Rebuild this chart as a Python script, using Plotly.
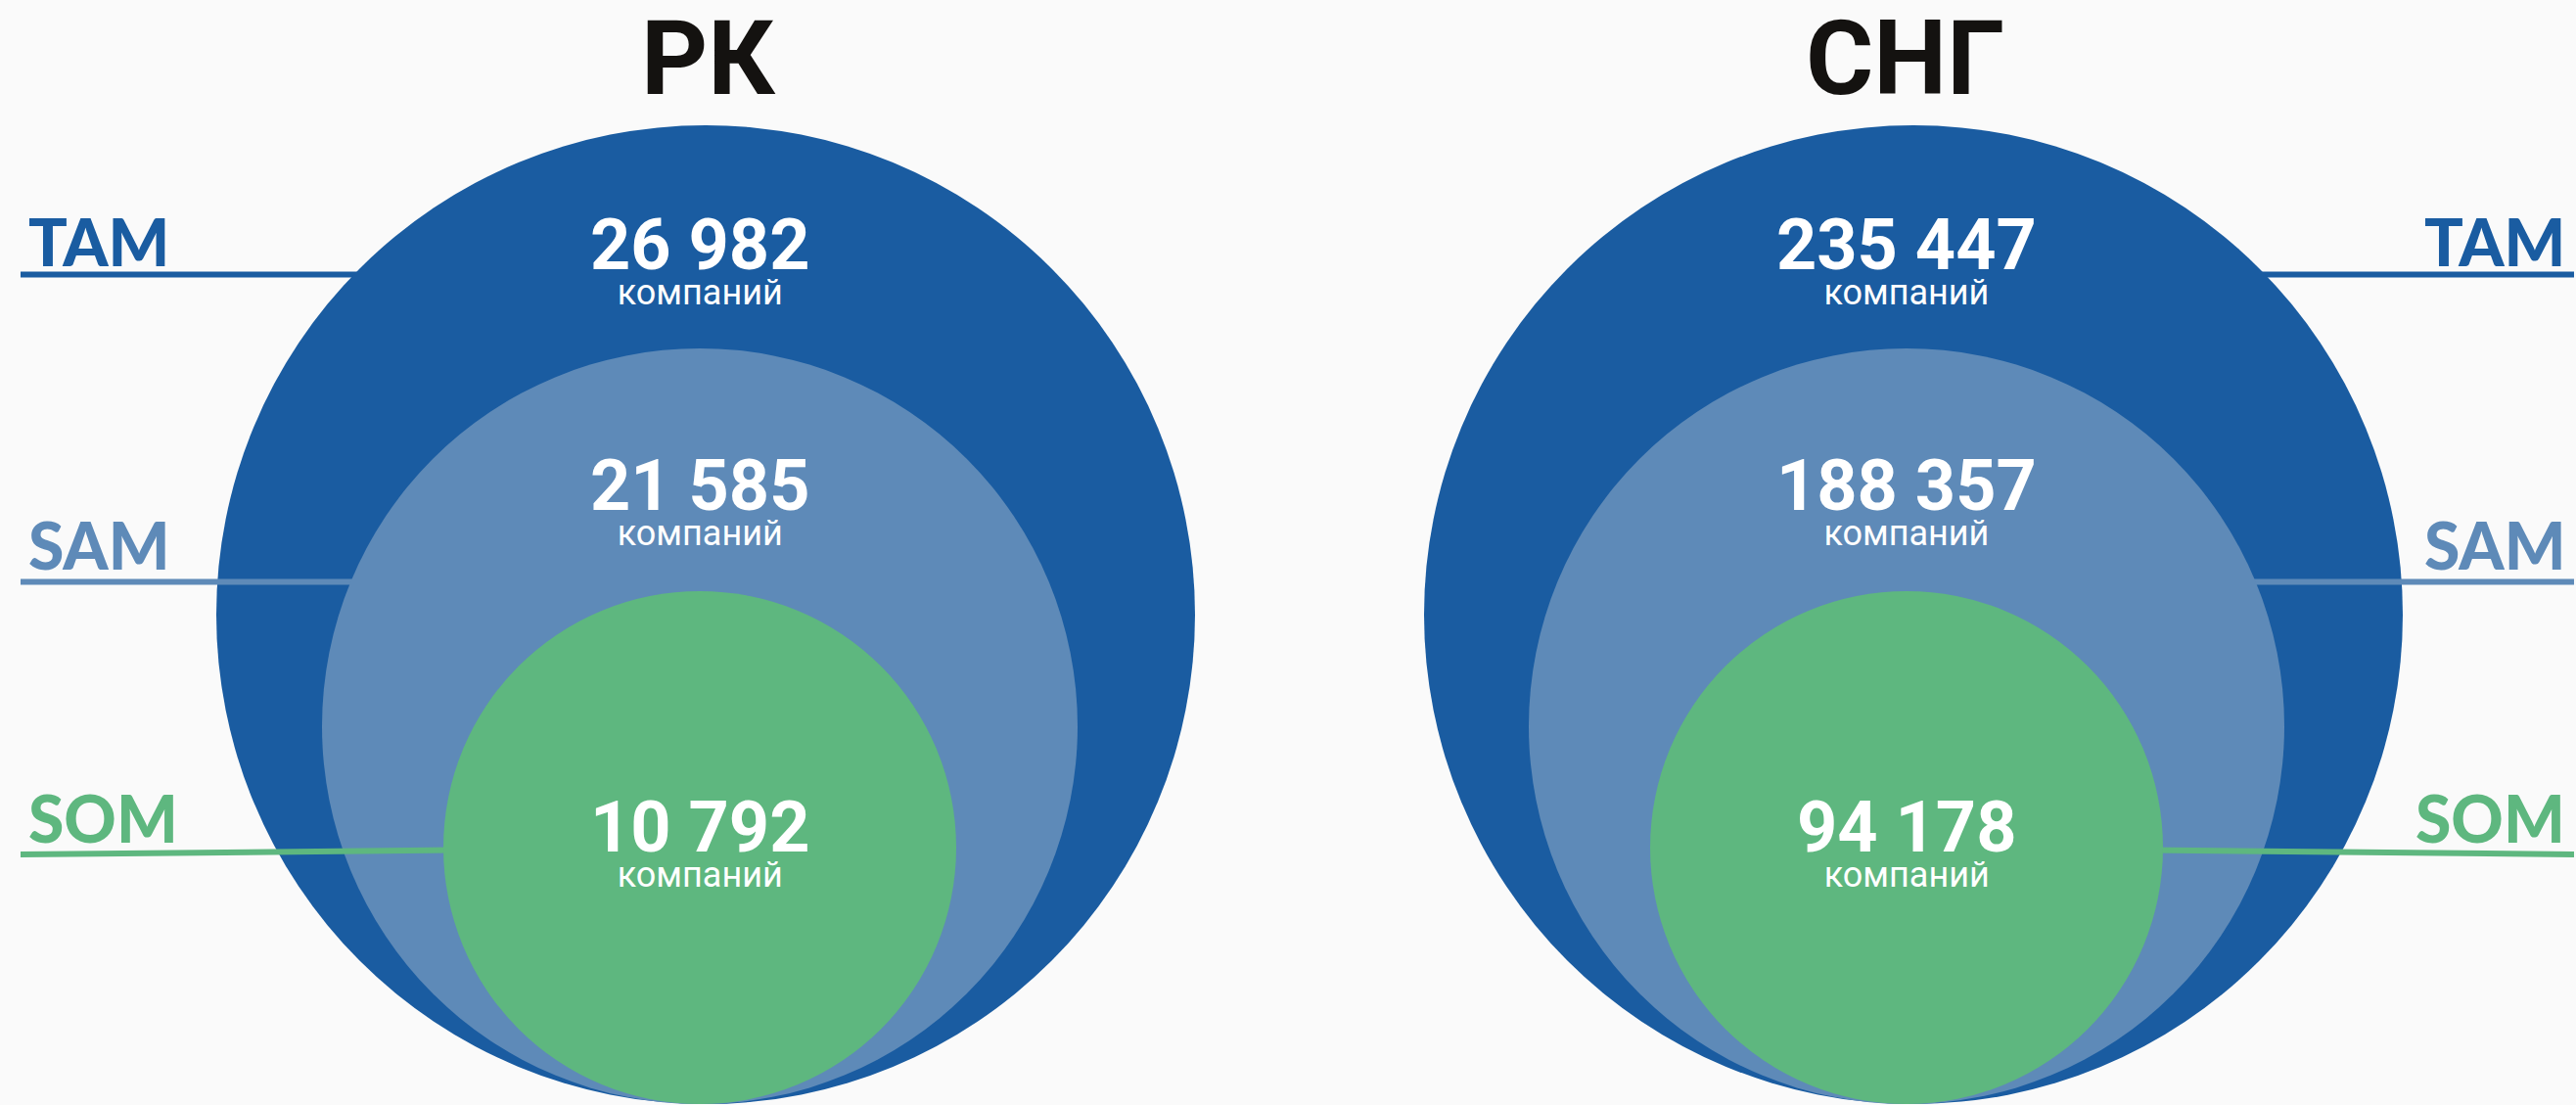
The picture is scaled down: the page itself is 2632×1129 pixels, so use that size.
import plotly.graph_objects as go

# ---- data ----
regions = ["РК", "СНГ"]
tiers = ["TAM", "SAM", "SOM"]
tam_values = [26982, 235447]
sam_values = [21585, 188357]
som_values = [10792, 94178]
unit_label = "компаний"

# ---- styling / layout (pixel space) ----
W, H = 2632, 1129
BG = "#fafafa"
tier_colors = {"TAM": "#1a5ca1", "SAM": "#5e8ab8", "SOM": "#5eb77f"}
tier_radius = {"TAM": 500, "SAM": 386, "SOM": 262}
bottom_y = 1128
tam_cx = [721, 1955]
inner_cx = [715, 1948]
title_cx = [724, 1946]
label_y = {"TAM": 246.5, "SAM": 556.5, "SOM": 835.5}
line_y = {"TAM": 280.5, "SAM": 594.5}
block_y = {"TAM": 264, "SAM": 510, "SOM": 859}  # centre of number + unit block

values = {"TAM": tam_values, "SAM": sam_values, "SOM": som_values}


def fmt(v):
    return f"{v:,}".replace(",", " ")


fig = go.Figure()
fig.add_trace(go.Scatter(x=[0, W], y=[0, H], mode="markers",
                         marker=dict(opacity=0), hoverinfo="skip", showlegend=False))

shapes = []
annotations = []

for i, reg in enumerate(regions):
    side = -1 if i == 0 else 1
    for t in tiers:
        col = tier_colors[t]
        r = tier_radius[t]
        cx = tam_cx[i] if t == "TAM" else inner_cx[i]
        cy = bottom_y - r
        if t in line_y:
            y_out = y_in = line_y[t]
        else:
            y_out, y_in = 873, 866  # SOM leader slightly slanted
        if side < 0:
            shapes.append(dict(type="line", xref="x", yref="y", x0=21, y0=y_out,
                               x1=cx, y1=y_in, line=dict(color=col, width=6), layer="above"))
        else:
            shapes.append(dict(type="line", xref="x", yref="y", x0=cx, y0=y_in,
                               x1=2630, y1=y_out, line=dict(color=col, width=6), layer="above"))
        shapes.append(dict(type="circle", xref="x", yref="y",
                           x0=cx - r, x1=cx + r, y0=cy - r, y1=cy + r,
                           fillcolor=col, line=dict(width=0), layer="above"))
        lab_font = dict(family="Lato", size=66, color=col, weight=900)
        if side < 0:
            annotations.append(dict(x=27, y=label_y[t], xref="x", yref="y", text=t,
                                    showarrow=False, xanchor="left", yanchor="middle",
                                    font=lab_font))
        else:
            annotations.append(dict(x=2623, y=label_y[t], xref="x", yref="y", text=t,
                                    showarrow=False, xanchor="right", yanchor="middle",
                                    font=lab_font))
        block = (f"<span style='font-size:72px'><b>{fmt(values[t][i])}</b></span>"
                 f"<br><span style='font-size:36px'>{unit_label}</span>")
        annotations.append(dict(x=inner_cx[i], y=block_y[t], xref="x", yref="y",
                                text=block, showarrow=False, align="center",
                                xanchor="center", yanchor="middle",
                                font=dict(family="Roboto", size=28, color="white")))
    annotations.append(dict(x=title_cx[i], y=59.5, xref="x", yref="y", text=reg,
                            showarrow=False, xanchor="center", yanchor="middle",
                            font=dict(family="Roboto", size=106, color="#141210", weight=700)))

fig.update_layout(
    width=W, height=H,
    margin=dict(l=0, r=0, t=0, b=0),
    paper_bgcolor=BG, plot_bgcolor=BG,
    shapes=shapes, annotations=annotations,
    xaxis=dict(range=[0, W], visible=False, fixedrange=True),
    yaxis=dict(range=[H, 0], visible=False, fixedrange=True),
    showlegend=False,
)

fig.write_html(
    "out.html",
    config={"displayModeBar": False},
    post_script="document.body.style.margin='0';document.body.style.background='#fafafa';",
)
